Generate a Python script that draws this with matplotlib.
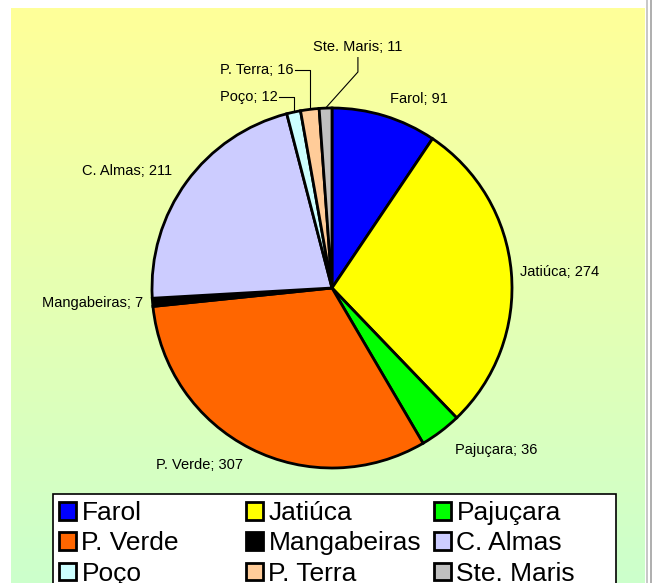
import numpy as np
import matplotlib.pyplot as plt
from matplotlib.patches import Rectangle

plt.rcParams['font.family'] = ['Liberation Sans', 'DejaVu Sans']

# data
bairros = ['Farol', 'Jatiúca', 'Pajuçara', 'P. Verde', 'Mangabeiras',
           'C. Almas', 'Poço', 'P. Terra', 'Ste. Maris']
valores = [91, 274, 36, 307, 7, 211, 12, 16, 11]
cores = ['#0000FF', '#FFFF00', '#00FF00', '#FF6600', '#000000',
         '#CCCCFF', '#CCFFFF', '#FFCC99', '#C0C0C0']

fig = plt.figure(figsize=(6.52, 5.83), dpi=100)

# gradient panel background
bg = fig.add_axes([11/652, 0, (645-11)/652, (583-8)/583])
top = np.array([255, 255, 153]) / 255
bot = np.array([204, 255, 204]) / 255
t = np.linspace(0, 1, 256)[:, None]
grad = (top[None, :] * (1 - t) + bot[None, :] * t)[:, None, :]
bg.imshow(grad, aspect='auto', extent=[0, 1, 0, 1])
bg.axis('off')
fig.add_artist(Rectangle((646/652, 0), 2/652, 1, transform=fig.transFigure,
                         color='#c8c8c8', lw=0))
fig.add_artist(Rectangle((650/652, 0), 2/652, 1, transform=fig.transFigure,
                         color='#b0b0b0', lw=0))

ax = fig.add_axes([0, 0, 1, 1])
wedges, _ = ax.pie(valores, colors=cores, startangle=90, counterclock=False,
                   radius=1, wedgeprops=dict(edgecolor='black', linewidth=2))
ax.set_xlim(-332/180, 320/180)
ax.set_ylim(-295/180, 288/180)
ax.set_aspect('equal')
ax.axis('off')

fs = 10.5
for i, w in enumerate(wedges):
    ang = np.deg2rad((w.theta1 + w.theta2) / 2)
    cx, cy = np.cos(ang), np.sin(ang)
    txt = f'{bairros[i]}; {valores[i]}'
    if bairros[i] in ('Poço', 'P. Terra'):
        ty = 1.06 if bairros[i] == 'Poço' else 1.21
        tx = cx - 0.09
        ax.text(tx, ty, txt, ha='right', va='center', fontsize=fs)
        ax.plot([tx + 0.01, cx, cx], [ty, ty, cy], color='black', lw=0.8)
    elif bairros[i] == 'Ste. Maris':
        tx, ty = 0.144, 1.34
        ax.text(tx, ty, txt, ha='center', va='center', fontsize=fs)
        ax.plot([tx, tx, cx], [ty - 0.06, 1.2, cy], color='black', lw=0.8)
    else:
        r = 1.1 if abs(cx) < 0.95 else 1.05
        if bairros[i] == 'Pajuçara':
            r = 1.13
        ha = 'left' if cx > 0 else 'right'
        ax.text(r * cx, r * cy, txt, ha=ha, va='center', fontsize=fs)

# legend box + three columns (entries read row by row)
fig.add_artist(Rectangle((53/652, -0.05), (616-53)/652, 1 - 494/583 + 0.05,
                         transform=fig.transFigure, facecolor='white',
                         edgecolor='black', lw=1.2, zorder=5))
col_x = [59, 246, 434]
for j in range(3):
    leg = fig.legend(wedges[j::3], bairros[j::3], loc='upper left',
                     bbox_to_anchor=(col_x[j]/652, 1 - 501/583),
                     fontsize=19, frameon=False, handlelength=0.65,
                     handleheight=0.65, handletextpad=0.2,
                     labelspacing=0.24, borderpad=0, borderaxespad=0)
    leg.set_zorder(6)

fig.savefig('out.png', dpi=100)
